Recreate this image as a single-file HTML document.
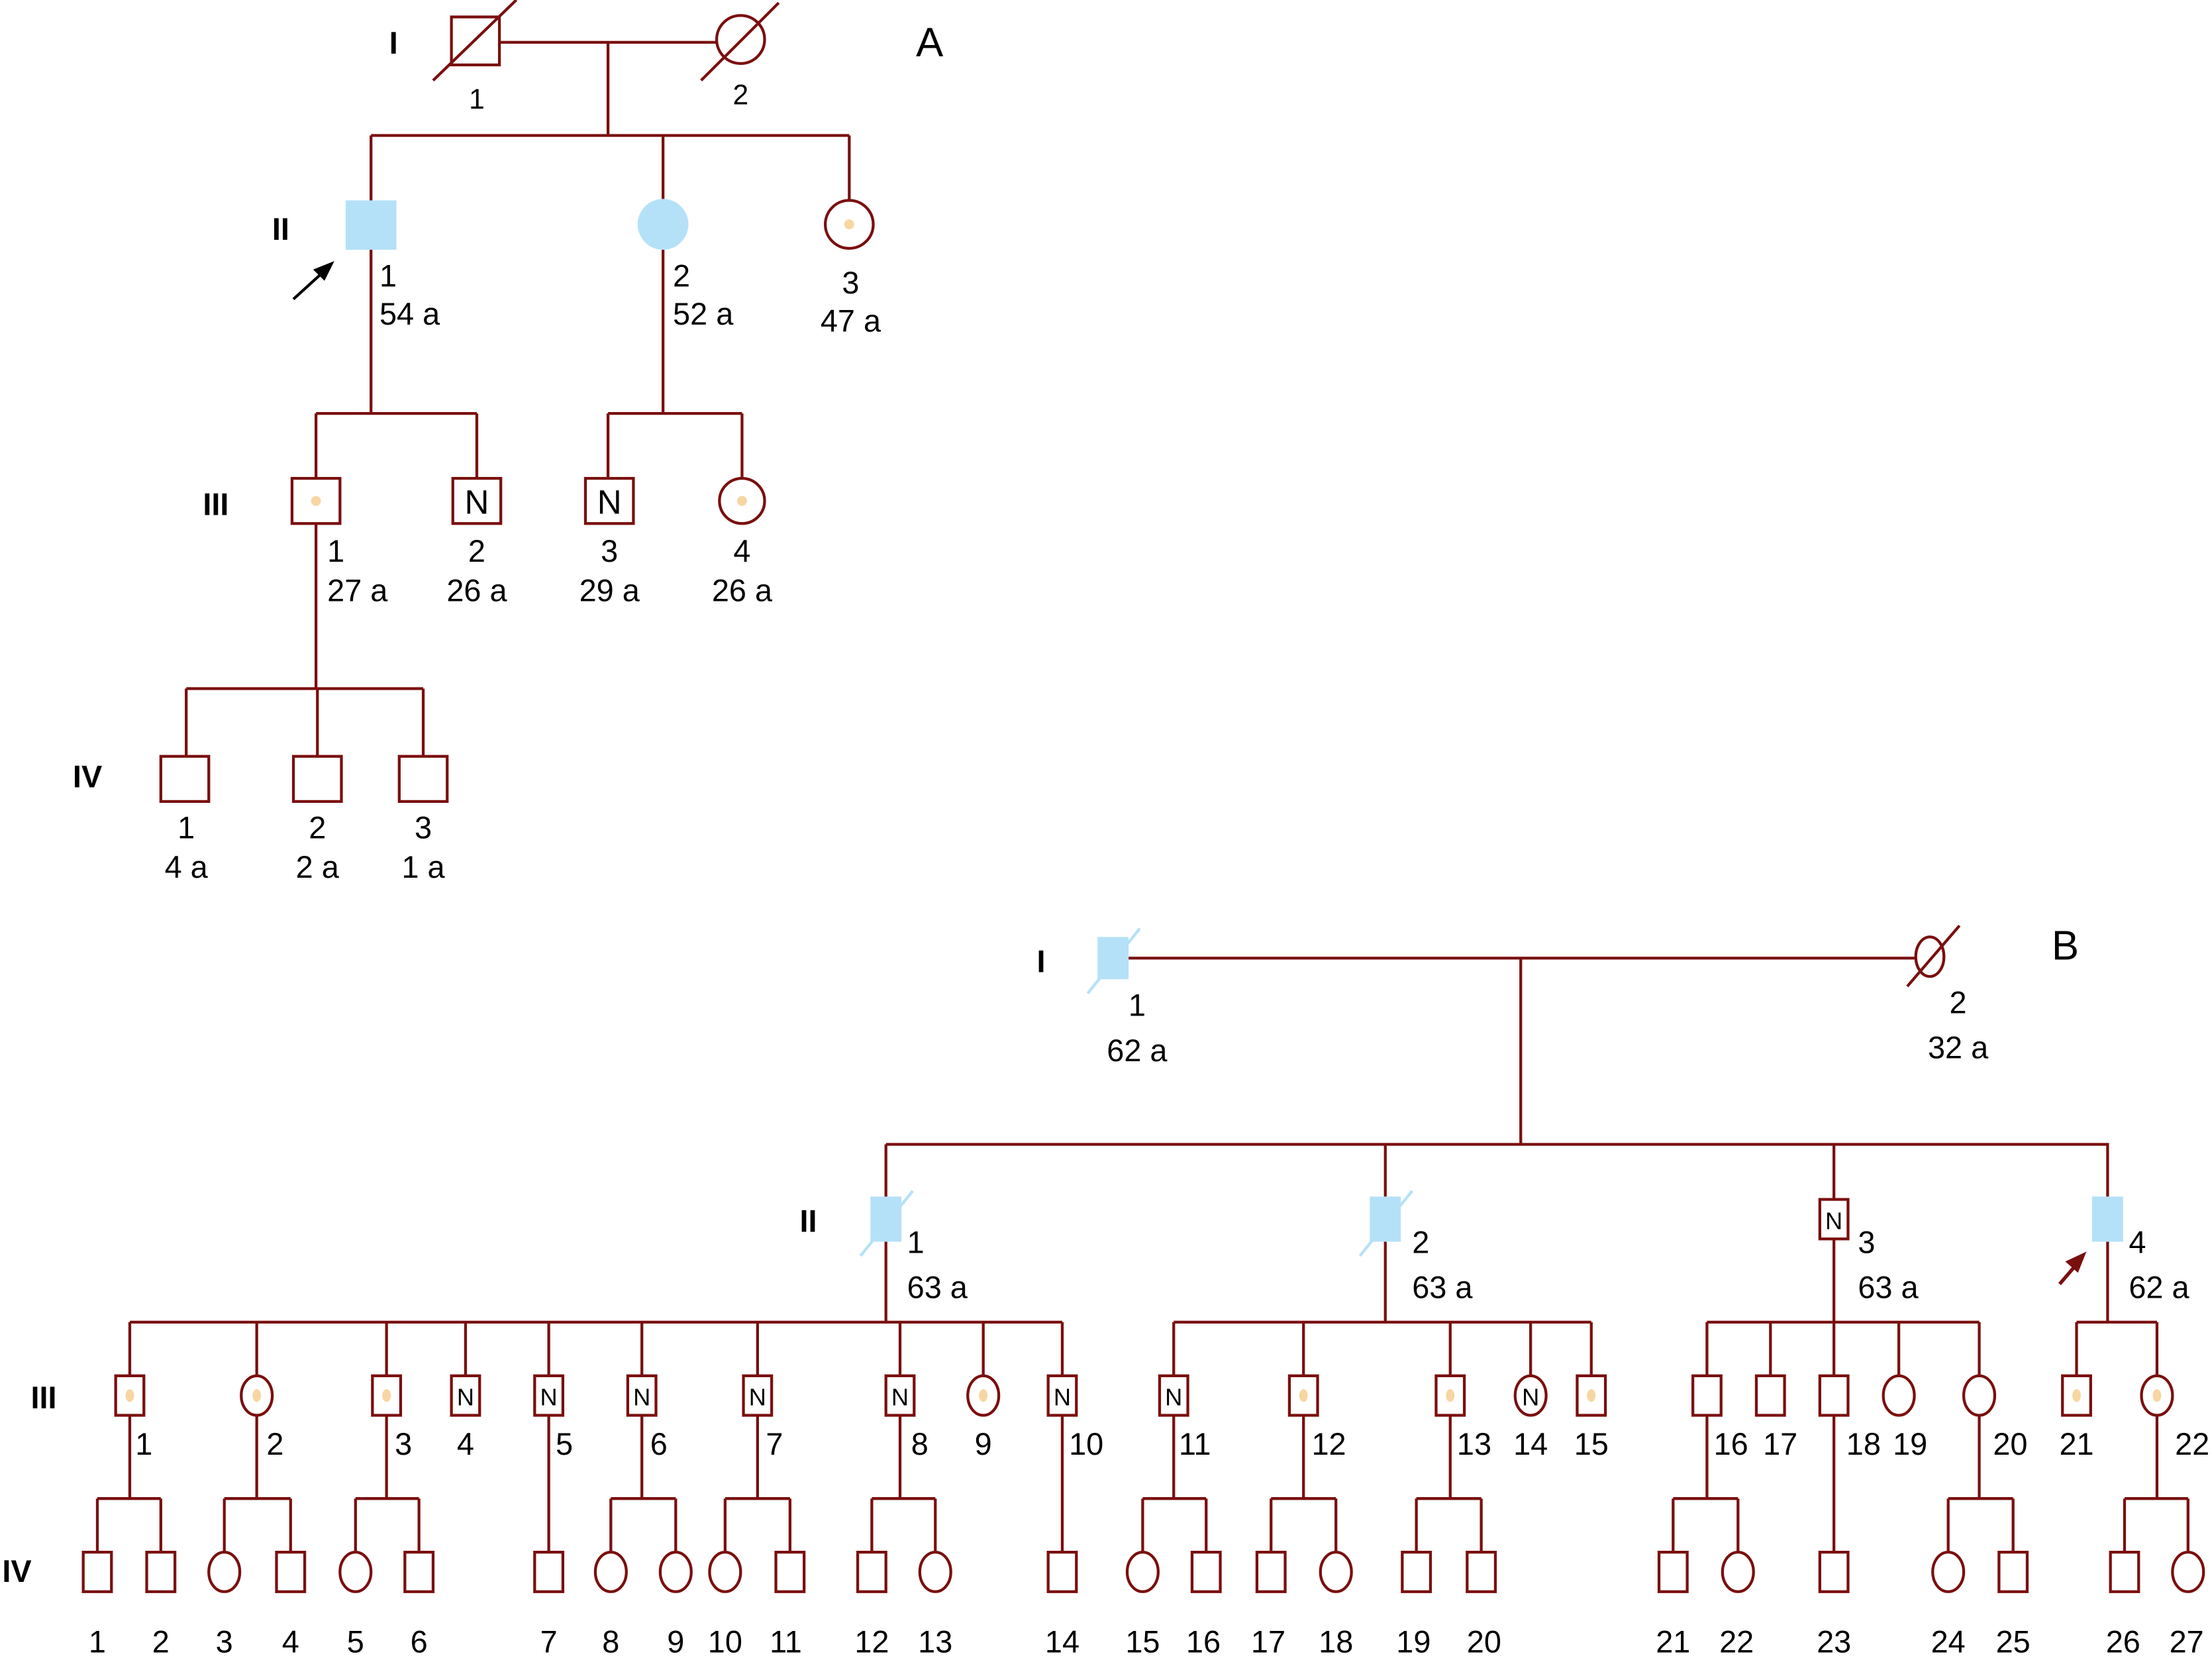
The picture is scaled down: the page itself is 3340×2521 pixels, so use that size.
<!DOCTYPE html>
<html><head><meta charset="utf-8"><style>
html,body{margin:0;padding:0;background:#fff;}
svg{display:block;}
text{font-family:"Liberation Sans",Arial,sans-serif;fill:#000;}
</style></head><body>
<svg width="3340" height="2521" viewBox="0 0 1568 1183.5" preserveAspectRatio="none" xmlns="http://www.w3.org/2000/svg">
<g stroke="#7a0f0f" stroke-width="2" fill="none">
<!-- Panel A -->
<rect x="320" y="12" width="34" height="34" fill="#fff"/>
<line x1="307" y1="57" x2="366" y2="0"/>
<circle cx="525" cy="28" r="17" fill="#fff"/>
<line x1="497" y1="57" x2="552" y2="2"/>
<line x1="354" y1="30" x2="508" y2="30"/>
<line x1="431" y1="30" x2="431" y2="96"/>
<line x1="263" y1="96" x2="602" y2="96"/>
<line x1="263" y1="96" x2="263" y2="142"/>
<line x1="470" y1="96" x2="470" y2="141"/>
<line x1="602" y1="96" x2="602" y2="142"/>
<line x1="263" y1="177" x2="263" y2="293"/>
<line x1="224" y1="293" x2="338" y2="293"/>
<line x1="224" y1="293" x2="224" y2="339"/>
<line x1="338" y1="293" x2="338" y2="339"/>
<line x1="470" y1="177" x2="470" y2="293"/>
<line x1="431" y1="293" x2="526" y2="293"/>
<line x1="431" y1="293" x2="431" y2="339"/>
<line x1="526" y1="293" x2="526" y2="339"/>
<circle cx="602" cy="159" r="17" fill="#fff"/>
<rect x="207" y="339" width="34" height="32" fill="#fff"/>
<rect x="321" y="339" width="34" height="32" fill="#fff"/>
<rect x="415" y="339" width="34" height="32" fill="#fff"/>
<circle cx="526" cy="355" r="16" fill="#fff"/>
<line x1="224" y1="371" x2="224" y2="488"/>
<line x1="132" y1="488" x2="300" y2="488"/>
<line x1="132" y1="488" x2="132" y2="536"/>
<line x1="225" y1="488" x2="225" y2="536"/>
<line x1="300" y1="488" x2="300" y2="536"/>
<rect x="114" y="536" width="34" height="32" fill="#fff"/>
<rect x="208" y="536" width="34" height="32" fill="#fff"/>
<rect x="283" y="536" width="34" height="32" fill="#fff"/>

<!-- Panel B top -->
<line x1="800" y1="679" x2="1358" y2="679"/>
<line x1="1078" y1="679" x2="1078" y2="811"/>
<line x1="628" y1="811" x2="1495" y2="811"/>
<line x1="628" y1="811" x2="628" y2="848"/>
<line x1="982" y1="811" x2="982" y2="848"/>
<line x1="1300" y1="811" x2="1300" y2="850"/>
<line x1="1494" y1="811" x2="1494" y2="848"/>
<ellipse cx="1368" cy="678" rx="10" ry="14" fill="#fff"/>
<line x1="1352" y1="699" x2="1389" y2="656"/>
<rect x="1290" y="850" width="20" height="28" fill="#fff"/>
<line x1="628" y1="880" x2="628" y2="937"/>
<line x1="92" y1="937" x2="753" y2="937"/>
<line x1="982" y1="880" x2="982" y2="937"/>
<line x1="832" y1="937" x2="1128" y2="937"/>
<line x1="1300" y1="878" x2="1300" y2="937"/>
<line x1="1210" y1="937" x2="1403" y2="937"/>
<line x1="1494" y1="880" x2="1494" y2="937"/>
<line x1="1472" y1="937" x2="1529" y2="937"/>
</g>
<!-- blue affected -->
<g fill="#b5e1f8">
<rect x="245" y="142" width="36" height="35"/>
<circle cx="470" cy="159" r="18"/>
<rect x="778" y="664" width="22" height="30"/>
<rect x="617" y="848" width="22" height="32"/>
<rect x="971" y="848" width="22" height="32"/>
<rect x="1483" y="848" width="22" height="32"/>
</g>
<g stroke="#b5e1f8" stroke-width="2">
<line x1="771" y1="704" x2="808" y2="658"/>
<line x1="610" y1="890" x2="647" y2="844"/>
<line x1="964" y1="890" x2="1001" y2="844"/>
</g>
<!-- dots A -->
<g fill="#f7d6a3">
<circle cx="602" cy="159" r="3.5"/>
<circle cx="224" cy="355" r="3.5"/>
<circle cx="526" cy="355" r="3.5"/>
</g>
<!-- arrows -->
<line x1="208" y1="212" x2="230" y2="192" stroke="#000" stroke-width="2"/>
<polygon points="237,185 222,191 230,199" fill="#000"/>
<line x1="1460" y1="910" x2="1472" y2="896" stroke="#7a0f0f" stroke-width="2.5"/>
<polygon points="1479,887 1464,894 1473,902" fill="#7a0f0f"/>

<!-- Panel B generations III/IV generated -->
<g id="gen" stroke="#7a0f0f" stroke-width="2" fill="#fff">
<!-- III vertical drops -->
<path d="M92 937V975M182 937V975M274 937V975M330 937V975M389 937V975M455 937V975M537 937V975M638 937V975M697 937V975M753 937V975M832 937V975M924 937V975M1028 937V975M1085 937V975M1128 937V975M1210 937V975M1255 937V975M1300 937V975M1346 937V975M1403 937V975M1472 937V975M1529 937V975" fill="none"/>
<!-- family connectors -->
<path fill="none" d="
M92 1003V1062M69 1062H114M69 1062V1100M114 1062V1100
M182 1003V1062M159 1062H206M159 1062V1100M206 1062V1100
M274 1003V1062M252 1062H297M252 1062V1100M297 1062V1100
M389 1003V1100
M455 1003V1062M433 1062H479M433 1062V1100M479 1062V1100
M537 1003V1062M514 1062H560M514 1062V1100M560 1062V1100
M638 1003V1062M618 1062H663M618 1062V1100M663 1062V1100
M753 1003V1100
M832 1003V1062M810 1062H855M810 1062V1100M855 1062V1100
M924 1003V1062M901 1062H947M901 1062V1100M947 1062V1100
M1028 1003V1062M1004 1062H1050M1004 1062V1100M1050 1062V1100
M1210 1003V1062M1186 1062H1232M1186 1062V1100M1232 1062V1100
M1300 1003V1100
M1403 1003V1062M1381 1062H1427M1381 1062V1100M1427 1062V1100
M1529 1003V1062M1506 1062H1551M1506 1062V1100M1551 1062V1100"/>
<!-- III symbols -->
<rect x="82" y="975" width="20" height="28"/>
<ellipse cx="182" cy="989" rx="11" ry="14"/>
<rect x="264" y="975" width="20" height="28"/>
<rect x="320" y="975" width="20" height="28"/>
<rect x="379" y="975" width="20" height="28"/>
<rect x="445" y="975" width="20" height="28"/>
<rect x="527" y="975" width="20" height="28"/>
<rect x="628" y="975" width="20" height="28"/>
<ellipse cx="697" cy="989" rx="11" ry="14"/>
<rect x="743" y="975" width="20" height="28"/>
<rect x="822" y="975" width="20" height="28"/>
<rect x="914" y="975" width="20" height="28"/>
<rect x="1018" y="975" width="20" height="28"/>
<ellipse cx="1085" cy="989" rx="11" ry="14"/>
<rect x="1118" y="975" width="20" height="28"/>
<rect x="1200" y="975" width="20" height="28"/>
<rect x="1245" y="975" width="20" height="28"/>
<rect x="1290" y="975" width="20" height="28"/>
<ellipse cx="1346" cy="989" rx="11" ry="14"/>
<ellipse cx="1403" cy="989" rx="11" ry="14"/>
<rect x="1462" y="975" width="20" height="28"/>
<ellipse cx="1529" cy="989" rx="11" ry="14"/>
<!-- IV symbols -->
<rect x="59" y="1100" width="20" height="28"/>
<rect x="104" y="1100" width="20" height="28"/>
<ellipse cx="159" cy="1114" rx="11" ry="14"/>
<rect x="196" y="1100" width="20" height="28"/>
<ellipse cx="252" cy="1114" rx="11" ry="14"/>
<rect x="287" y="1100" width="20" height="28"/>
<rect x="379" y="1100" width="20" height="28"/>
<ellipse cx="433" cy="1114" rx="11" ry="14"/>
<ellipse cx="479" cy="1114" rx="11" ry="14"/>
<ellipse cx="514" cy="1114" rx="11" ry="14"/>
<rect x="550" y="1100" width="20" height="28"/>
<rect x="608" y="1100" width="20" height="28"/>
<ellipse cx="663" cy="1114" rx="11" ry="14"/>
<rect x="743" y="1100" width="20" height="28"/>
<ellipse cx="810" cy="1114" rx="11" ry="14"/>
<rect x="845" y="1100" width="20" height="28"/>
<rect x="891" y="1100" width="20" height="28"/>
<ellipse cx="947" cy="1114" rx="11" ry="14"/>
<rect x="994" y="1100" width="20" height="28"/>
<rect x="1040" y="1100" width="20" height="28"/>
<rect x="1176" y="1100" width="20" height="28"/>
<ellipse cx="1232" cy="1114" rx="11" ry="14"/>
<rect x="1290" y="1100" width="20" height="28"/>
<ellipse cx="1381" cy="1114" rx="11" ry="14"/>
<rect x="1417" y="1100" width="20" height="28"/>
<rect x="1496" y="1100" width="20" height="28"/>
<ellipse cx="1551" cy="1114" rx="11" ry="14"/>
</g>
<g fill="#f7d6a3">
<ellipse cx="92" cy="989" rx="3" ry="4.5"/>
<ellipse cx="182" cy="989" rx="3" ry="4.5"/>
<ellipse cx="274" cy="989" rx="3" ry="4.5"/>
<ellipse cx="697" cy="989" rx="3" ry="4.5"/>
<ellipse cx="924" cy="989" rx="3" ry="4.5"/>
<ellipse cx="1028" cy="989" rx="3" ry="4.5"/>
<ellipse cx="1128" cy="989" rx="3" ry="4.5"/>
<ellipse cx="1472" cy="989" rx="3" ry="4.5"/>
<ellipse cx="1529" cy="989" rx="3" ry="4.5"/>
</g>

<!-- Text -->
<g font-size="22">
<text x="279" y="38" font-weight="bold" text-anchor="middle">I</text>
<text x="199" y="170" font-weight="bold" text-anchor="middle">II</text>
<text x="153" y="365" font-weight="bold" text-anchor="middle">III</text>
<text x="62" y="558" font-weight="bold" text-anchor="middle">IV</text>
<text x="659" y="40" font-size="29" text-anchor="middle">A</text>
<text x="338" y="77" font-size="20" text-anchor="middle">1</text>
<text x="525" y="74" font-size="20" text-anchor="middle">2</text>
<text x="269" y="203">1</text><text x="269" y="230">54 a</text>
<text x="477" y="203">2</text><text x="477" y="230">52 a</text>
<text x="603" y="208" text-anchor="middle">3</text><text x="603" y="235" text-anchor="middle">47 a</text>
<text x="224" y="364" text-anchor="middle" font-size="24" fill="#000"></text>
<text x="338" y="364" text-anchor="middle" font-size="24">N</text>
<text x="432" y="364" text-anchor="middle" font-size="24">N</text>
<text x="232" y="398">1</text><text x="232" y="426">27 a</text>
<text x="338" y="398" text-anchor="middle">2</text><text x="338" y="426" text-anchor="middle">26 a</text>
<text x="432" y="398" text-anchor="middle">3</text><text x="432" y="426" text-anchor="middle">29 a</text>
<text x="526" y="398" text-anchor="middle">4</text><text x="526" y="426" text-anchor="middle">26 a</text>
<text x="132" y="594" text-anchor="middle">1</text><text x="132" y="622" text-anchor="middle">4 a</text>
<text x="225" y="594" text-anchor="middle">2</text><text x="225" y="622" text-anchor="middle">2 a</text>
<text x="300" y="594" text-anchor="middle">3</text><text x="300" y="622" text-anchor="middle">1 a</text>

<text x="738" y="689" font-weight="bold" text-anchor="middle">I</text>
<text x="1464" y="680" font-size="29" text-anchor="middle">B</text>
<text x="806" y="720" text-anchor="middle">1</text><text x="806" y="752" text-anchor="middle">62 a</text>
<text x="1388" y="718" text-anchor="middle">2</text><text x="1388" y="750" text-anchor="middle">32 a</text>
<text x="573" y="873" font-weight="bold" text-anchor="middle">II</text>
<text x="643" y="888">1</text><text x="643" y="920">63 a</text>
<text x="1001" y="888">2</text><text x="1001" y="920">63 a</text>
<text x="1317" y="888">3</text><text x="1317" y="920">63 a</text>
<text x="1509" y="888">4</text><text x="1509" y="920">62 a</text>
<text x="1300" y="871" font-size="17" text-anchor="middle">N</text>
<text x="31" y="998" font-weight="bold" text-anchor="middle">III</text>
<text x="12" y="1121" font-weight="bold" text-anchor="middle">IV</text>
</g>
<g font-size="17" text-anchor="middle">
<text x="330" y="996">N</text><text x="389" y="996">N</text><text x="455" y="996">N</text>
<text x="537" y="996">N</text><text x="638" y="996">N</text><text x="753" y="996">N</text>
<text x="832" y="996">N</text><text x="1085" y="996">N</text>
</g>
<g font-size="22" text-anchor="middle">
<text x="102" y="1031">1</text><text x="195" y="1031">2</text><text x="286" y="1031">3</text>
<text x="330" y="1031">4</text><text x="400" y="1031">5</text><text x="467" y="1031">6</text>
<text x="549" y="1031">7</text><text x="652" y="1031">8</text><text x="697" y="1031">9</text>
<text x="770" y="1031">10</text><text x="847" y="1031">11</text><text x="942" y="1031">12</text>
<text x="1045" y="1031">13</text><text x="1085" y="1031">14</text><text x="1128" y="1031">15</text>
<text x="1227" y="1031">16</text><text x="1262" y="1031">17</text><text x="1321" y="1031">18</text>
<text x="1354" y="1031">19</text><text x="1425" y="1031">20</text><text x="1472" y="1031">21</text>
<text x="1554" y="1031">22</text>
<text x="69" y="1171">1</text><text x="114" y="1171">2</text><text x="159" y="1171">3</text>
<text x="206" y="1171">4</text><text x="252" y="1171">5</text><text x="297" y="1171">6</text>
<text x="389" y="1171">7</text><text x="433" y="1171">8</text><text x="479" y="1171">9</text>
<text x="514" y="1171">10</text><text x="557" y="1171">11</text><text x="618" y="1171">12</text>
<text x="663" y="1171">13</text><text x="753" y="1171">14</text><text x="810" y="1171">15</text>
<text x="853" y="1171">16</text><text x="899" y="1171">17</text><text x="947" y="1171">18</text>
<text x="1002" y="1171">19</text><text x="1052" y="1171">20</text><text x="1186" y="1171">21</text>
<text x="1231" y="1171">22</text><text x="1300" y="1171">23</text><text x="1381" y="1171">24</text>
<text x="1427" y="1171">25</text><text x="1505" y="1171">26</text><text x="1550" y="1171">27</text>
</g>
</svg>
</body></html>
